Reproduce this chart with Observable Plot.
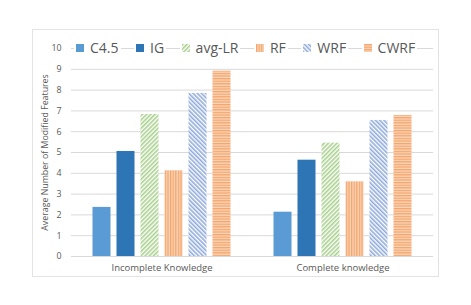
<!DOCTYPE html>
<html>
<head>
<meta charset="utf-8">
<script src="https://cdn.jsdelivr.net/npm/d3@7"></script>
<script src="https://cdn.jsdelivr.net/npm/@observablehq/plot@0.6"></script>
<style>
  body { margin: 0; background: #fff; font-family: "Open Sans", sans-serif; }
  #wrap { position: relative; width: 471px; height: 305px; }
  #frame { position: absolute; left: 32px; top: 29px; width: 405px; height: 246px; border: 1px solid #e3e3e3; }
  #chart { position: absolute; left: 0; top: 0; }
  #legend { position: absolute; left: 74px; top: 38px; display: flex; align-items: center; font-size: 14px; color: #595959; }
  #legend .item { display: flex; align-items: center; background: #fff; padding: 0 2px; margin-right: 13.5px; }
  #legend svg { margin-right: 6px; }
</style>
</head>
<body>
<svg width="0" height="0" style="position:absolute">
  <defs>
    <pattern id="p-avglr" width="3" height="3" patternUnits="userSpaceOnUse" patternTransform="rotate(45)">
      <rect width="3" height="3" fill="#fff"/>
      <rect width="1.6" height="3" fill="#a9d18e"/>
    </pattern>
    <pattern id="p-rf" width="2.6" height="3" patternUnits="userSpaceOnUse">
      <rect width="2.6" height="3" fill="#fbd7bd"/>
      <rect width="1.3" height="3" fill="#f4a46a"/>
    </pattern>
    <pattern id="p-wrf" width="3" height="3" patternUnits="userSpaceOnUse" patternTransform="rotate(-45)">
      <rect width="3" height="3" fill="#fff"/>
      <rect width="1.6" height="3" fill="#8faadc"/>
    </pattern>
    <pattern id="p-cwrf" width="3" height="2.6" patternUnits="userSpaceOnUse">
      <rect width="3" height="2.6" fill="#fbd7bd"/>
      <rect width="3" height="1.3" fill="#f4a46a"/>
    </pattern>
  </defs>
</svg>
<div id="wrap">
  <div id="frame"></div>
  <div id="chart"></div>
  <div id="legend"></div>
</div>
<script>
const groups = ["Incomplete Knowledge", "Complete knowledge"];
const series = ["C4.5", "IG", "avg-LR", "RF", "WRF", "CWRF"];
const incomplete = [2.36, 5.05, 6.83, 4.12, 7.84, 8.91];
const complete = [2.13, 4.63, 5.45, 3.59, 6.54, 6.78];
const yTicks = [0, 1, 2, 3, 4, 5, 6, 7, 8, 9, 10];
const fills = ["#5b9bd5", "#2e75b6", "url(#p-avglr)", "url(#p-rf)", "url(#p-wrf)", "url(#p-cwrf)"];

const data = [];
[incomplete, complete].forEach((vals, gi) => {
  vals.forEach((v, si) => data.push({group: groups[gi], series: series[si], value: v}));
});

const chart = Plot.plot({
  width: 471,
  height: 305,
  marginLeft: 70,
  marginRight: 38,
  marginTop: 48,
  marginBottom: 49,
  style: {fontFamily: "Open Sans, sans-serif", fontSize: "9.5px", color: "#595959", background: "transparent"},
  fx: {domain: groups, padding: 0, label: null},
  x: {domain: series, axis: null, paddingInner: 0.2, paddingOuter: 0.85},
  y: {domain: [0, 10], ticks: yTicks, label: null},
  color: {domain: series, range: fills},
  marks: [
    Plot.gridY(yTicks, {stroke: "#d9d9d9", strokeOpacity: 1}),
    Plot.barY(data, {fx: "group", x: "series", y: "value", fill: "series", insetLeft: 0.5, insetRight: 0.5}),
    Plot.axisY(yTicks, {tickSize: 0, tickPadding: 10, label: "Average Number of Modified Features", labelArrow: "none", labelAnchor: "center", labelOffset: 30, fontSize: 8.8}),
    Plot.axisFx({anchor: "bottom", tickSize: 0, tickPadding: 8, label: null, fontSize: 9.5})
  ]
});
document.getElementById("chart").appendChild(chart);

const legend = document.getElementById("legend");
series.forEach((s, i) => {
  const item = document.createElement("div");
  item.className = "item";
  item.innerHTML = `<svg width="8" height="8"><rect width="8" height="8" fill="${fills[i]}"/></svg><span>${s}</span>`;
  legend.appendChild(item);
});
</script>
</body>
</html>
